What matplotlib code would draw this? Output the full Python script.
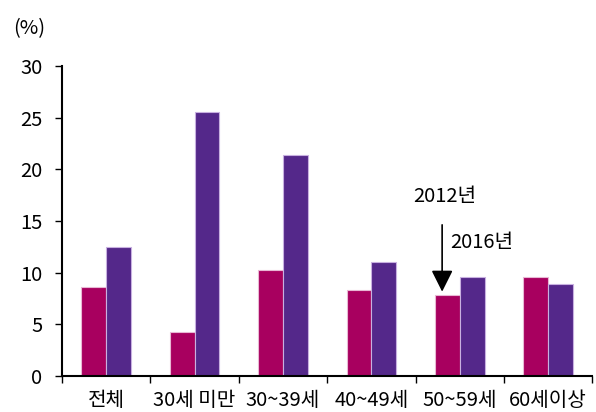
import numpy as np
import matplotlib.pyplot as plt

plt.rcParams['font.family'] = ['Noto Sans CJK KR', 'DejaVu Sans']

# 연령대별 비율 (%)
groups = ['전체', '30세 미만', '30~39세', '40~49세', '50~59세', '60세이상']
y2012 = [8.6, 4.3, 10.3, 8.3, 7.8, 9.6]
y2016 = [12.5, 25.5, 21.4, 11.0, 9.6, 8.9]

c2012 = '#a8005f'
c2016 = '#54288a'
fs = 14.5

fig = plt.figure(figsize=(5.96, 4.12), dpi=100)
ax = fig.add_axes([0.104, 0.087, 0.89, 0.753])

x = np.arange(len(groups))
w = 0.28
ax.bar(x - w / 2, y2012, w, color=c2012, edgecolor='#e8b8d4', linewidth=0.8)
ax.bar(x + w / 2, y2016, w, color=c2016, edgecolor='#c8b0e0', linewidth=0.8)

ax.set_xlim(-0.5, len(groups) - 0.5)
ax.set_ylim(0, 30)
ax.set_yticks(range(0, 31, 5))
ax.set_yticklabels([str(v) for v in range(0, 31, 5)], fontsize=fs, fontweight='light')
ax.tick_params(axis='y', length=5, width=1, pad=9)

# 범주 사이 눈금
ax.set_xticks(np.arange(-0.5, len(groups)), minor=False)
ax.set_xticklabels([])
ax.set_xticks(x, minor=True)
ax.set_xticklabels(groups, minor=True, fontsize=fs, fontweight='light')
ax.tick_params(axis='x', which='major', length=5, width=1, direction='out')
ax.tick_params(axis='x', which='minor', length=0, pad=10)

for s in ['top', 'right']:
    ax.spines[s].set_visible(False)
for s in ['left', 'bottom']:
    ax.spines[s].set_linewidth(1.5)

fig.text(0.022, 0.93, '(%)', fontsize=fs, fontweight='light', ha='left', va='center')

xa = 3.8
ax.annotate('', xy=(xa, y2012[4] + 0.1), xytext=(xa, 14.9),
            arrowprops=dict(arrowstyle='-|>,head_length=0.6,head_width=0.3',
                            color='black', lw=1.2, mutation_scale=22))
ax.text(3.47, 17.4, '2012년', fontsize=fs, fontweight='light', ha='left', va='center')
ax.text(3.89, 12.9, '2016년', fontsize=fs, fontweight='light', ha='left', va='center')

fig.savefig('out.png', dpi=100)
